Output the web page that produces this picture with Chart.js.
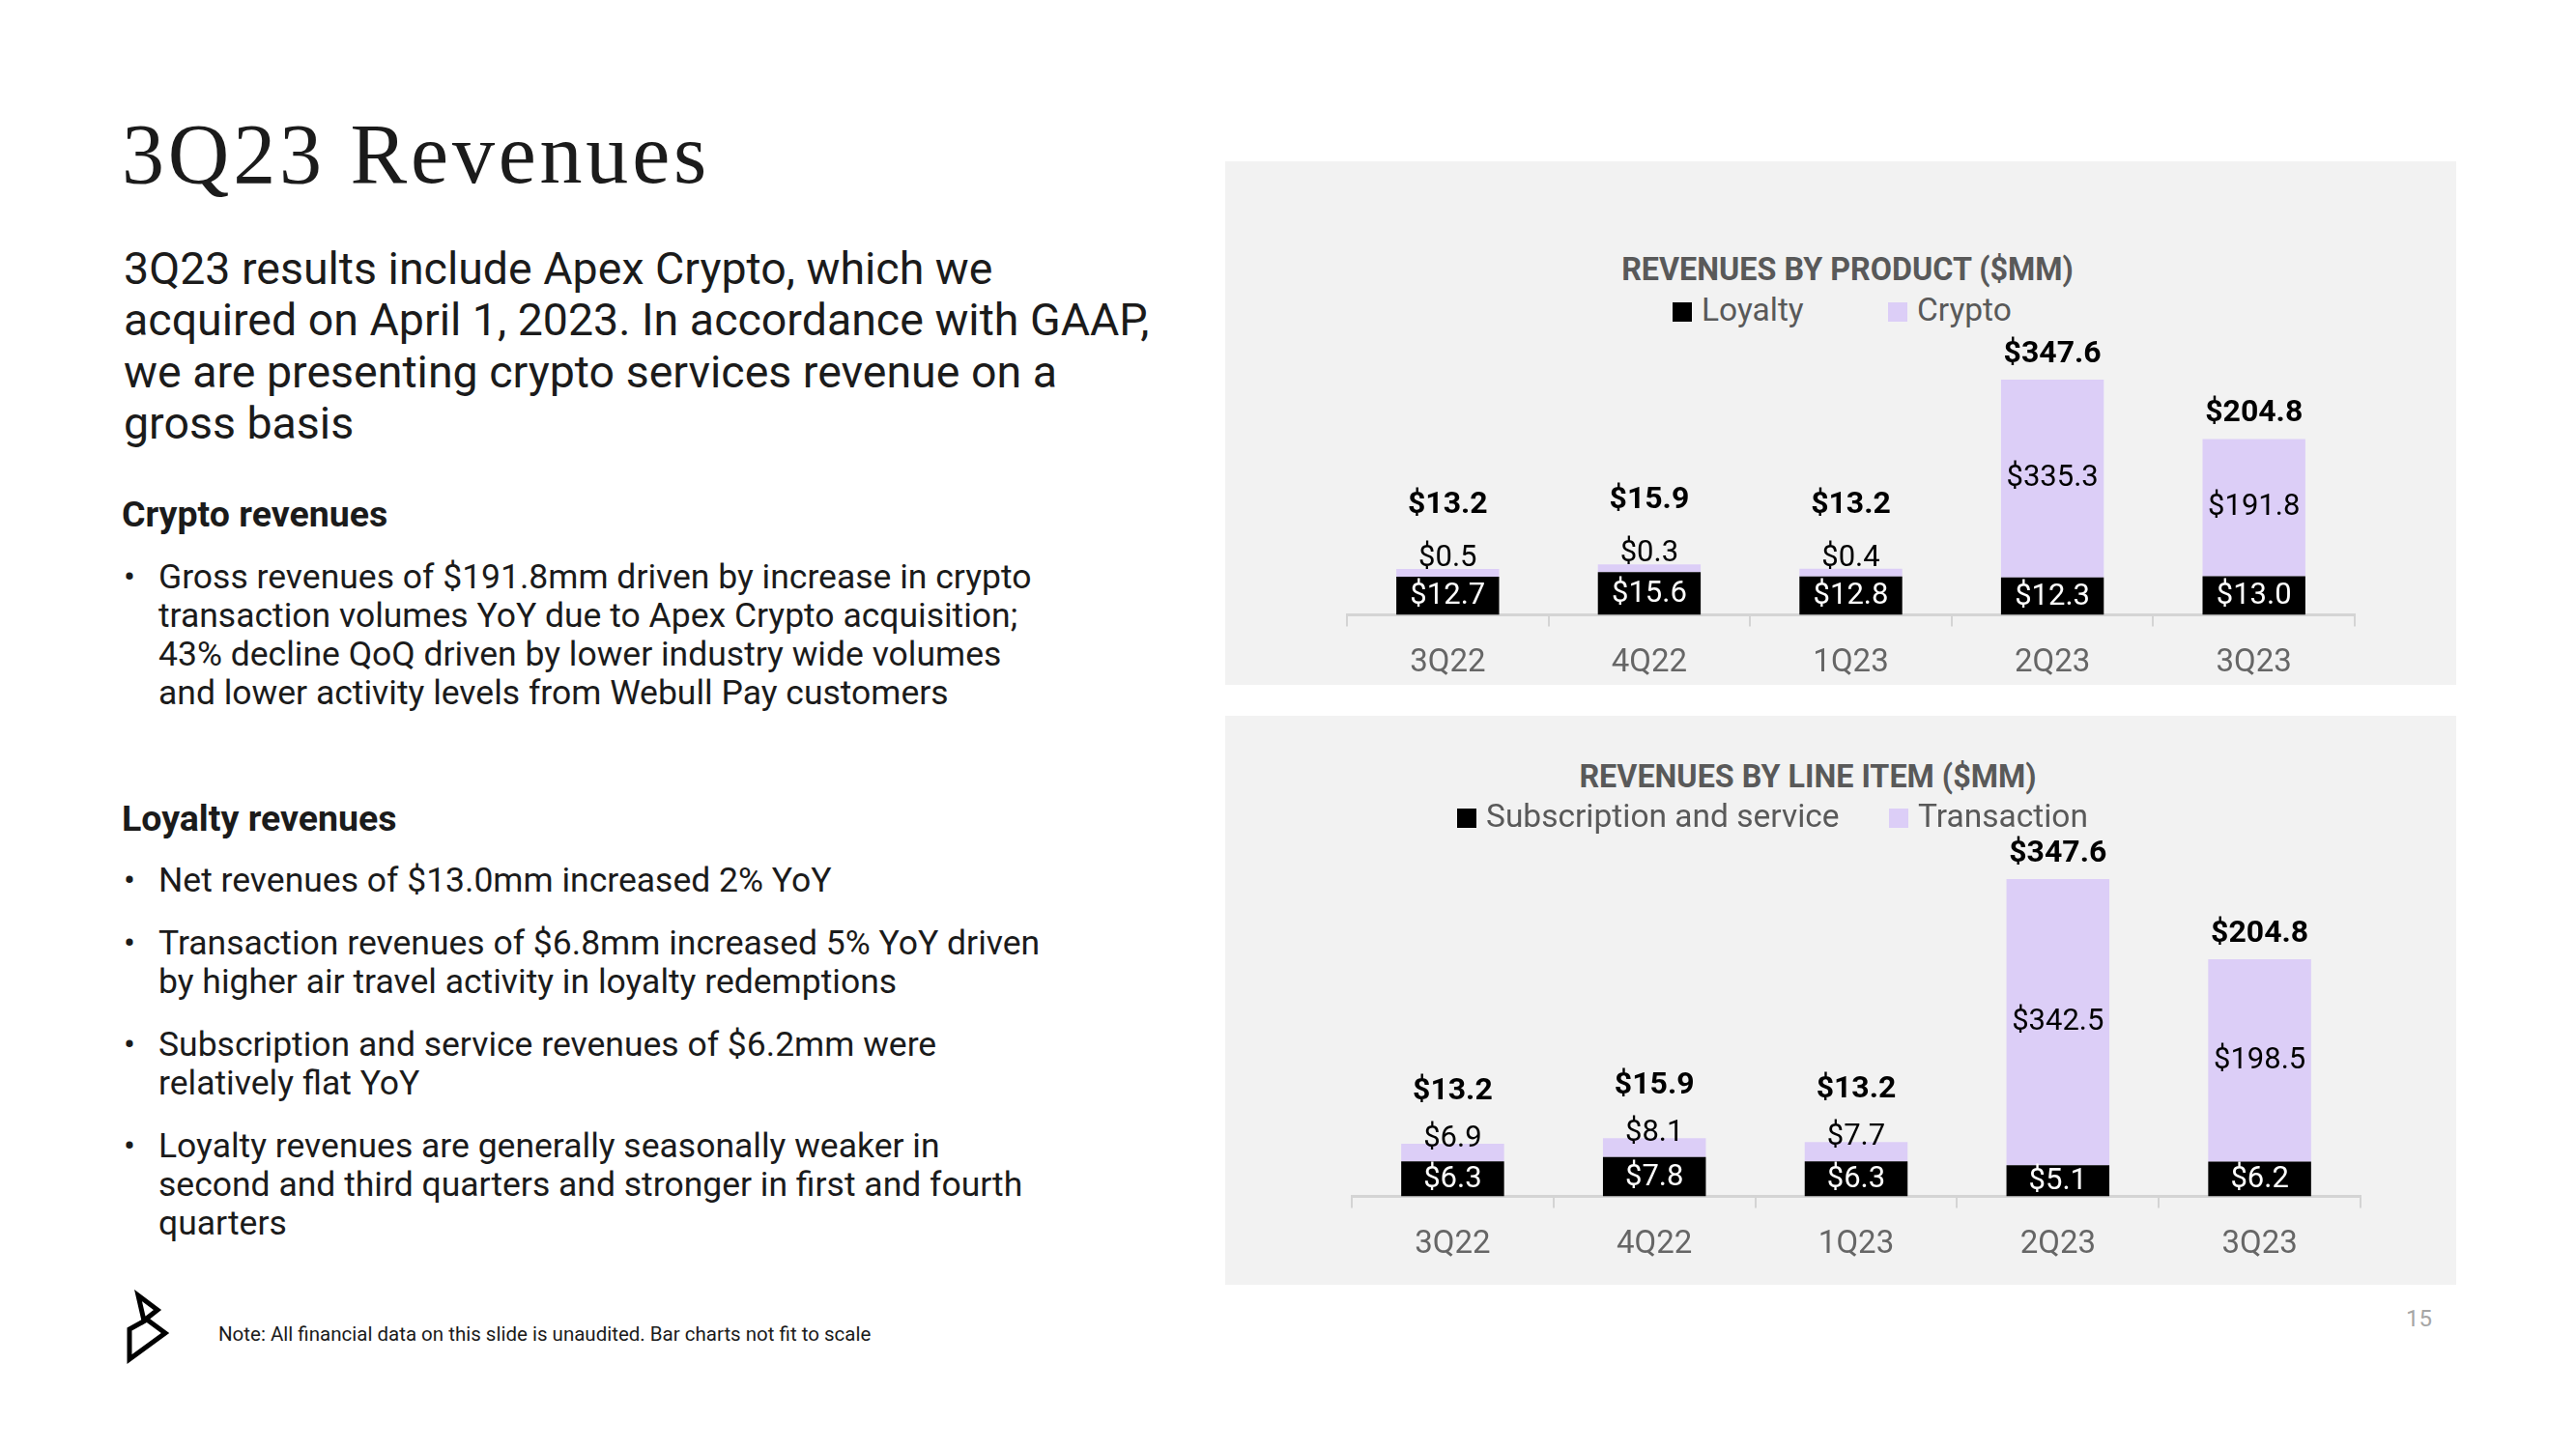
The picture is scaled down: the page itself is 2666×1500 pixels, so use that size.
<!DOCTYPE html>
<html>
<head>
<meta charset="utf-8">
<title>3Q23 Revenues</title>
<script src="https://cdn.jsdelivr.net/npm/chart.js@4.4.0/dist/chart.umd.min.js"></script>
<style>
    body {
        margin: 0;
        width: 2666px;
        height: 1500px;
        position: relative;
        overflow: hidden;
        background: #fff;
        font-family: Roboto, sans-serif;
        color: #1b1b1b;
    }
    .abs { position: absolute; white-space: nowrap; }
    h1 {
        position: absolute;
        left: 126px;
        top: 116px;
        margin: 0;
        font-family: "Liberation Serif", serif;
        font-weight: 400;
        font-size: 88px;
        letter-spacing: 3.8px;
        line-height: 1;
    }
    .intro { left: 128px; top: 252px; font-size: 46.5px; line-height: 53.3px; }
    .subhead { left: 126px; font-size: 37.5px; font-weight: 700; line-height: 40px; }
    ul { margin: 0; padding: 0; list-style: none; }
    li { position: relative; padding-left: 36px; font-size: 35.5px; line-height: 40px; margin-bottom: 25px; }
    li::before { content: "\2022"; position: absolute; left: 0; }
    .note { left: 226px; top: 1368px; font-size: 20.5px; line-height: 26px; }
    .page-num { left: 2490px; top: 1351px; font-size: 24px; line-height: 28px; color: #a6a6a6; }

    .panel { position: absolute; left: 1268px; width: 1274px; background: #f2f2f2; }
    .panel canvas { position: absolute; left: 0; }
    .chart-title {
        position: absolute;
        font-size: 32.3px;
        line-height: 36px;
        font-weight: 700;
        color: #595959;
        white-space: nowrap;
        transform: translateX(-50%);
        z-index: 2;
    }
    .legend-item {
        position: absolute;
        font-size: 33.5px;
        line-height: 38px;
        color: #595959;
        white-space: nowrap;
        z-index: 2;
    }
    .legend-item span {
        display: inline-block;
        width: 20px;
        height: 20px;
        margin-right: 10px;
        vertical-align: -1px;
    }
</style>
</head>
<body>

<h1>3Q23 Revenues</h1>

<div class="abs intro">
    3Q23 results include Apex Crypto, which we<br>
    acquired on April 1, 2023. In accordance with GAAP,<br>
    we are presenting crypto services revenue on a<br>
    gross basis
</div>

<div class="abs subhead" style="top: 512px;">Crypto revenues</div>
<ul class="abs" style="left: 128px; top: 577px;">
    <li>Gross revenues of $191.8mm driven by increase in crypto<br>
        transaction volumes YoY due to Apex Crypto acquisition;<br>
        43% decline QoQ driven by lower industry wide volumes<br>
        and lower activity levels from Webull Pay customers</li>
</ul>

<div class="abs subhead" style="top: 827px;">Loyalty revenues</div>
<ul class="abs" style="left: 128px; top: 891px;">
    <li>Net revenues of $13.0mm increased 2% YoY</li>
    <li>Transaction revenues of $6.8mm increased 5% YoY driven<br>
        by higher air travel activity in loyalty redemptions</li>
    <li>Subscription and service revenues of $6.2mm were<br>
        relatively flat YoY</li>
    <li>Loyalty revenues are generally seasonally weaker in<br>
        second and third quarters and stronger in first and fourth<br>
        quarters</li>
</ul>

<svg class="abs" style="left: 125px; top: 1335px;" width="56" height="80" viewBox="0 0 56 80">
    <path d="M18 6 L38 21 L24 32 Z" fill="none" stroke="#000" stroke-width="5" stroke-linejoin="miter"/>
    <path d="M9 41 L27 31 L46 45 L9 72 Z" fill="none" stroke="#000" stroke-width="5" stroke-linejoin="miter"/>
</svg>
<div class="abs note">Note: All financial data on this slide is unaudited. Bar charts not fit to scale</div>
<div class="abs page-num">15</div>

<!-- Revenues by product -->
<div class="panel" style="top: 167px; height: 542px;">
    <div class="chart-title" style="left: 644px; top: 94px;">REVENUES BY PRODUCT ($MM)</div>
    <div class="legend-item" style="left: 463px; top: 135px;"><span style="background:#000"></span>Loyalty</div>
    <div class="legend-item" style="left: 686px; top: 135px;"><span style="background:#dccef7"></span>Crypto</div>
    <canvas id="productChart" width="1274" height="394" style="top: 173px;"></canvas>
</div>

<!-- Revenues by line item -->
<div class="panel" style="top: 741px; height: 589px;">
    <div class="chart-title" style="left: 603px; top: 45px;">REVENUES BY LINE ITEM ($MM)</div>
    <div class="legend-item" style="left: 240px; top: 85px;"><span style="background:#000"></span>Subscription and service</div>
    <div class="legend-item" style="left: 687px; top: 85px;"><span style="background:#dccef7"></span>Transaction</div>
    <canvas id="lineItemChart" width="1274" height="490" style="top: 99px;"></canvas>
</div>

<script>
// Data ($MM)
const quarters = ['3Q22', '4Q22', '1Q23', '2Q23', '3Q23'];

const loyalty = [12.7, 15.6, 12.8, 12.3, 13.0];
const crypto = [0.5, 0.3, 0.4, 335.3, 191.8];
const productTotals = [13.2, 15.9, 13.2, 347.6, 204.8];

const subscription = [6.3, 7.8, 6.3, 5.1, 6.2];
const transaction = [6.9, 8.1, 7.7, 342.5, 198.5];
const lineItemTotals = [13.2, 15.9, 13.2, 347.6, 204.8];

const BLACK = '#000000';
const LAVENDER = '#dccef7';

// Bars are "not fit to scale" on the slide: a power scale squeezes the big quarters
class PowerScale extends Chart.LinearScale {
    static id = 'power';
    getPixelForValue(value) {
        const k = this.options.exponent || 0.55;
        const range = this.max - this.min;
        const d = Math.pow(Math.max(value - this.min, 0) / range, k);
        return this.getPixelForDecimal(d);
    }
    getValueForPixel(pixel) {
        const k = this.options.exponent || 0.55;
        const d = Math.max(this.getDecimalForPixel(pixel), 0);
        return this.min + Math.pow(d, 1 / k) * (this.max - this.min);
    }
}
Chart.register(PowerScale);

Chart.defaults.font.family = 'Roboto';

function money(v) {
    return '$' + v.toFixed(1);
}

// Segment values inside / above the bars plus the bold totals
const barLabels = {
    id: 'barLabels',
    afterDatasetsDraw(chart, args, opts) {
        const ctx = chart.ctx;
        const lowMeta = chart.getDatasetMeta(0);
        const upMeta = chart.getDatasetMeta(1);
        const lowData = chart.data.datasets[0].data;
        const upData = chart.data.datasets[1].data;

        ctx.save();
        ctx.textAlign = 'center';
        ctx.textBaseline = 'middle';

        lowMeta.data.forEach((bar, i) => {
            ctx.font = '31px Roboto';
            ctx.fillStyle = '#fff';
            ctx.fillText(money(lowData[i]), bar.x, (bar.y + bar.base) / 2 + 1);

            const up = upMeta.data[i];
            const h = up.base - up.y;
            let totalY;
            ctx.fillStyle = '#000';
            if (h >= 26) {
                ctx.fillText(money(upData[i]), up.x, (up.y + up.base) / 2);
                totalY = up.y - 26;
            } else {
                ctx.fillText(money(upData[i]), up.x, up.y - opts.smallOffset);
                totalY = up.y - opts.smallTotalGap;
            }

            ctx.font = 'bold 32px Roboto';
            ctx.fillText(money(opts.totals[i]), up.x, totalY);
        });
        ctx.restore();
    }
};

function makeChart(canvasId, lower, upper, totals, layout) {
    const ctx = document.getElementById(canvasId).getContext('2d');
    const maxStack = Math.max(...lower.map((v, i) => v + upper[i]));
    return new Chart(ctx, {
        type: 'bar',
        data: {
            labels: quarters,
            datasets: [{
                data: lower,
                backgroundColor: BLACK,
                barPercentage: 0.51,
                categoryPercentage: 1
            }, {
                data: upper,
                backgroundColor: LAVENDER,
                barPercentage: 0.51,
                categoryPercentage: 1,
                minBarLength: 8
            }]
        },
        options: {
            responsive: false,
            animation: false,
            devicePixelRatio: 1,
            layout: {
                padding: layout.padding
            },
            plugins: {
                legend: { display: false },
                tooltip: { enabled: false },
                barLabels: {
                    totals: totals,
                    smallOffset: layout.smallOffset,
                    smallTotalGap: layout.smallTotalGap
                }
            },
            scales: {
                x: {
                    stacked: true,
                    grid: {
                        display: true,
                        offset: true,
                        drawOnChartArea: false,
                        drawTicks: true,
                        tickLength: 12,
                        color: '#d4d4d4',
                        lineWidth: 2
                    },
                    border: {
                        display: true,
                        color: '#d4d4d4',
                        width: 3
                    },
                    ticks: {
                        color: '#666666',
                        padding: 19,
                        font: { size: 33 }
                    }
                },
                y: {
                    type: 'power',
                    exponent: 0.55,
                    stacked: true,
                    display: false,
                    min: 0,
                    max: maxStack
                }
            }
        },
        plugins: [barLabels]
    });
}

makeChart('productChart', loyalty, crypto, productTotals, {
    padding: { top: 53, left: 126, right: 105, bottom: 8 },
    smallOffset: 11,
    smallTotalGap: 66
});

makeChart('lineItemChart', subscription, transaction, lineItemTotals, {
    padding: { top: 70, left: 131, right: 99, bottom: 2 },
    smallOffset: 5,
    smallTotalGap: 54
});
</script>
</body>
</html>
